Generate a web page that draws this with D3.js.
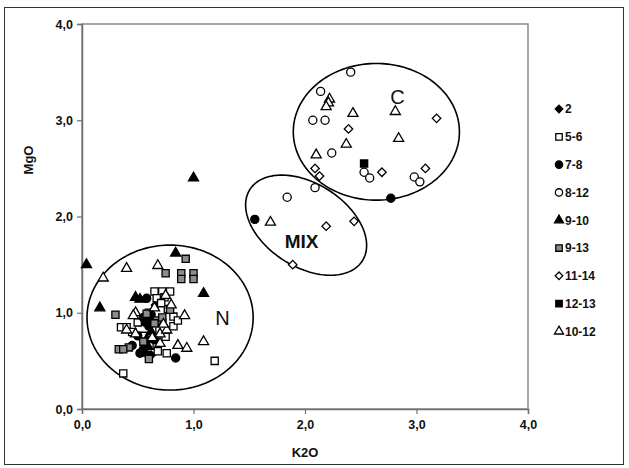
<!DOCTYPE html>
<html>
<head>
<meta charset="utf-8">
<script src="https://cdn.jsdelivr.net/npm/d3@7"></script>
<style>
  body { margin: 0; background: #fff; }
  svg { display: block; font-family: "Liberation Sans", Arial, sans-serif; }
</style>
</head>
<body>
<div id="chart"></div>
<script>
// ticks
const xTicks = [0, 1, 2, 3, 4];
const yTicks = [0, 1, 2, 3, 4];

// samples per group, [K2O, MgO]
const s2 = [[0.55, 0.60], [0.62, 0.56], [0.58, 0.92], [0.66, 1.08]];
const s56 = [[0.65, 1.22], [0.72, 1.22], [0.79, 1.22], [0.67, 1.15], [0.74, 1.16], [0.82, 0.96],
  [0.77, 1.04], [0.35, 0.85], [0.40, 0.85], [0.45, 0.80], [0.67, 0.66], [0.76, 0.58],
  [1.19, 0.50], [0.37, 0.37], [0.60, 1.00], [0.72, 0.90], [0.75, 0.75], [0.63, 0.82],
  [0.82, 0.86], [0.55, 0.76], [0.71, 1.10], [0.86, 0.92], [0.50, 0.90], [0.68, 0.60]];
const s78 = [[0.58, 1.15], [0.55, 0.95], [0.60, 0.86], [0.50, 0.76], [0.45, 0.66], [0.55, 0.62],
  [0.60, 0.56], [0.65, 0.72], [0.52, 0.58], [0.84, 0.53], [0.57, 0.90], [0.62, 0.98],
  [1.55, 1.97], [2.77, 2.19]];
const s812 = [[2.41, 3.50], [2.14, 3.30], [2.07, 3.00], [2.18, 3.00], [2.24, 2.66], [2.53, 2.46],
  [2.58, 2.40], [2.98, 2.41], [3.03, 2.36], [2.09, 2.30], [1.84, 2.20]];
const s910 = [[1.00, 2.40], [0.04, 1.50], [0.16, 1.05], [0.84, 1.62], [1.09, 1.20], [0.48, 1.16],
  [0.58, 0.72], [0.59, 0.65], [0.57, 0.58], [0.62, 0.80], [0.52, 1.14]];
const s913 = [[0.93, 1.56], [0.75, 1.41], [0.89, 1.41], [1.00, 1.41], [0.89, 1.35], [1.00, 1.35],
  [0.30, 0.98], [0.67, 0.92], [0.33, 0.62], [0.42, 0.64], [0.60, 0.52], [0.58, 0.99],
  [0.65, 0.89], [0.79, 1.03], [0.37, 0.62], [0.55, 0.70], [0.72, 0.95]];
const s1114 = [[3.18, 3.02], [2.39, 2.91], [2.09, 2.50], [2.13, 2.42], [2.69, 2.46], [3.08, 2.50],
  [2.19, 1.90], [2.44, 1.95], [1.89, 1.50]];
const s1213 = [[2.53, 2.55]];
const s1012 = [[2.22, 3.22], [2.21, 3.18], [2.19, 3.14], [2.43, 3.07], [2.81, 3.09], [2.84, 2.81],
  [2.37, 2.75], [2.10, 2.64], [1.69, 1.94],
  [0.19, 1.36], [0.40, 1.46], [0.68, 1.49], [0.92, 0.97], [0.48, 1.00], [1.09, 0.70],
  [0.86, 0.66], [0.94, 0.63], [0.46, 0.97], [0.40, 0.82], [0.48, 0.78], [0.70, 0.78],
  [0.76, 0.82], [0.73, 0.88], [0.70, 0.68], [0.63, 0.74], [0.75, 1.18], [0.65, 1.05], [0.80, 1.08]];

const seriesNames = ['2', '5-6', '7-8', '8-12', '9-10', '9-13', '11-14', '12-13', '10-12'];
const seriesData = [s2, s56, s78, s812, s910, s913, s1114, s1213, s1012];

// groups drawn as ellipses: centre, semi axes (data units), angle (deg)
const groupNames = ['N', 'MIX', 'C'];
const groupEllipses = [[0.79, 0.95, 0.745, 0.753, 0], [2.01, 1.91, 0.63, 0.41, -42], [2.64, 2.88, 0.745, 0.71, 0]];
const groupLabels = [[1.26, 0.95], [1.97, 1.74], [2.83, 3.24]];

// marker styles, same order as the series
const markerStyle = [
  { shape: 'diamond', fill: '#000' },
  { shape: 'square', fill: '#fff' },
  { shape: 'circle', fill: '#000' },
  { shape: 'circle', fill: '#fff' },
  { shape: 'triangle', fill: '#000' },
  { shape: 'square', fill: '#8c8c8c' },
  { shape: 'diamond', fill: '#fff' },
  { shape: 'square', fill: '#000' },
  { shape: 'triangle', fill: '#fff' }
];

const width = 629, height = 468;
const plot = { left: 82, right: 528, top: 24, bottom: 409 };

const svg = d3.select('#chart').append('svg')
  .attr('width', width)
  .attr('height', height);

// outer frame
svg.append('rect')
  .attr('x', 4.5).attr('y', 7.5)
  .attr('width', 619).attr('height', 457)
  .attr('fill', 'none').attr('stroke', '#333').attr('stroke-width', 1);

const x = d3.scaleLinear().domain([0, 4]).range([plot.left, plot.right]);
const y = d3.scaleLinear().domain([0, 4]).range([plot.bottom, plot.top]);
const fmt = d => d3.format('.1f')(d).replace('.', ',');

// plot area border
svg.append('rect')
  .attr('x', plot.left).attr('y', plot.top)
  .attr('width', plot.right - plot.left).attr('height', plot.bottom - plot.top)
  .attr('fill', 'none').attr('stroke', '#8a8a8a').attr('stroke-width', 1.5);

const xAxis = svg.append('g')
  .attr('transform', 'translate(0,' + plot.bottom + ')')
  .call(d3.axisBottom(x).tickValues(xTicks).tickFormat(fmt).tickSize(5).tickPadding(6));
const yAxis = svg.append('g')
  .attr('transform', 'translate(' + plot.left + ',0)')
  .call(d3.axisLeft(y).tickValues(yTicks).tickFormat(fmt).tickSize(5).tickPadding(4));

[xAxis, yAxis].forEach(function(a) {
  a.select('.domain').attr('stroke', '#707070').attr('stroke-width', 1.5);
  a.selectAll('.tick line').attr('stroke', '#707070').attr('stroke-width', 1.2);
  a.selectAll('.tick text')
    .attr('fill', '#111')
    .style('font-size', '12.5px')
    .style('font-weight', 'bold')
    .style('font-family', '"Liberation Sans", Arial, sans-serif');
});

// axis titles
svg.append('text')
  .attr('x', (plot.left + plot.right) / 2).attr('y', 457)
  .attr('text-anchor', 'middle')
  .style('font-size', '13px').style('font-weight', 'bold')
  .attr('fill', '#111')
  .text('K2O');
svg.append('text')
  .attr('transform', 'translate(33,160) rotate(-90)')
  .attr('text-anchor', 'middle')
  .style('font-size', '13px').style('font-weight', 'bold')
  .attr('fill', '#111')
  .text('MgO');

// ellipses
const line = d3.line().x(d => x(d[0])).y(d => y(d[1])).curve(d3.curveLinearClosed);
groupEllipses.forEach(function(e) {
  const phi = e[4] * Math.PI / 180;
  const pts = d3.range(0, 360, 2).map(function(t) {
    const a = t * Math.PI / 180;
    return [e[0] + e[2] * Math.cos(a) * Math.cos(phi) - e[3] * Math.sin(a) * Math.sin(phi),
            e[1] + e[2] * Math.cos(a) * Math.sin(phi) + e[3] * Math.sin(a) * Math.cos(phi)];
  });
  svg.append('path')
    .attr('d', line(pts))
    .attr('fill', 'none')
    .attr('stroke', '#000')
    .attr('stroke-width', 1.6);
});

// group labels
svg.selectAll('.glabel')
  .data(groupNames)
  .enter()
  .append('text')
  .attr('x', (d, i) => x(groupLabels[i][0]))
  .attr('y', (d, i) => y(groupLabels[i][1]))
  .attr('text-anchor', 'middle')
  .attr('dy', '0.36em')
  .style('font-size', d => d == 'MIX' ? '19px' : '20px')
  .style('font-weight', d => d == 'MIX' ? 'bold' : 'normal')
  .attr('fill', '#111')
  .text(d => d);

function symbolPath(shape, k) {
  if (shape == 'square') return d3.symbol(d3.symbolSquare, 52 * k)();
  if (shape == 'circle') return d3.symbol(d3.symbolCircle, 52 * k)();
  if (shape == 'triangle') return d3.symbol(d3.symbolTriangle, 44 * k)();
  return d3.symbol(d3.symbolSquare, 36 * k)();
}

// points
seriesData.forEach(function(data, i) {
  const st = markerStyle[i];
  svg.append('g').selectAll('path')
    .data(data)
    .enter()
    .append('path')
    .attr('d', symbolPath(st.shape, 1))
    .attr('transform', function(d) {
      return 'translate(' + x(d[0]) + ',' + y(d[1]) + ')' + (st.shape == 'diamond' ? ' rotate(45)' : '');
    })
    .attr('fill', st.fill)
    .attr('stroke', '#000')
    .attr('stroke-width', 1.3);
});

// legend
const legend = svg.append('g');
seriesNames.forEach(function(name, i) {
  const st = markerStyle[i];
  const ly = 109 + i * 27.8;
  legend.append('path')
    .attr('d', symbolPath(st.shape, 0.8))
    .attr('transform', 'translate(559,' + ly + ')' + (st.shape == 'diamond' ? ' rotate(45)' : ''))
    .attr('fill', st.fill)
    .attr('stroke', '#000')
    .attr('stroke-width', 1.3);
  legend.append('text')
    .attr('x', 565).attr('y', ly)
    .attr('dy', '0.36em')
    .style('font-size', '12px').style('font-weight', 'bold')
    .attr('fill', '#111')
    .text(name);
});
</script>
</body>
</html>
